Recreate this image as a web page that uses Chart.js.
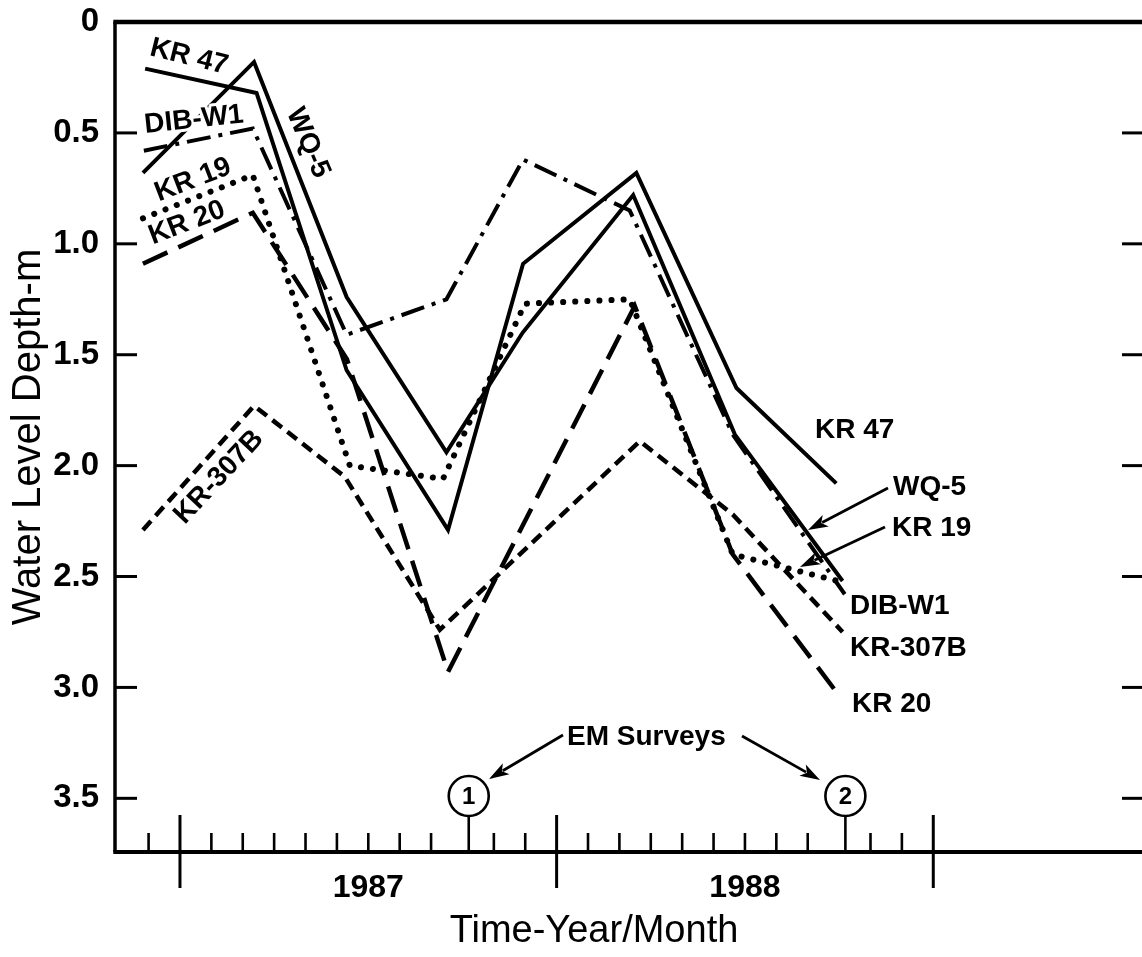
<!DOCTYPE html>
<html>
<head>
<meta charset="utf-8">
<title>Water level depth, 1987-1988</title>
<script src="https://cdn.jsdelivr.net/npm/chart.js@4.4.1/dist/chart.umd.min.js"></script>
<style>
  html, body { margin: 0; padding: 0; background: #ffffff; }
  #wrap { width: 1142px; height: 957px; position: relative; }
</style>
</head>
<body>
<div id="wrap"><canvas id="chart" width="1142" height="957"></canvas></div>
<script>
// Well names
const seriesNames = ['KR 47', 'WQ-5', 'DIB-W1', 'KR 19', 'KR 20', 'KR-307B'];

// Sampling times in months after 1 Jan 1987, water level depth in metres
const kr47Months   = [-1.11, 2.44, 5.31, 8.54, 10.93, 14.54, 17.73, 20.91];
const kr47Depths   = [0.21, 0.32, 1.57, 2.29, 1.09, 0.68, 1.65, 2.08];
const wq5Months    = [-1.18, 2.36, 5.31, 8.49, 10.92, 14.44, 17.68, 21.11];
const wq5Depths    = [0.68, 0.18, 1.24, 1.94, 1.40, 0.78, 1.86, 2.52];
const dibW1Months  = [-1.15, 2.32, 5.31, 8.49, 10.93, 14.33, 17.61, 21.18];
const dibW1Depths  = [0.58, 0.48, 1.41, 1.25, 0.62, 0.85, 1.86, 2.58];
const kr19Months   = [-1.18, 2.32, 5.41, 8.38, 10.99, 14.33, 17.61, 20.95];
const kr19Depths   = [0.885, 0.69, 2.00, 2.06, 1.27, 1.25, 2.40, 2.52];
const kr20Months   = [-1.18, 2.32, 5.32, 8.54, 14.49, 17.61, 20.91];
const kr20Depths   = [1.09, 0.86, 1.52, 2.93, 1.28, 2.40, 3.02];
const kr307bMonths = [-1.18, 2.36, 5.25, 8.28, 14.65, 17.61, 21.11];
const kr307bDepths = [2.29, 1.73, 2.05, 2.74, 1.89, 2.22, 2.75];

// Time axis: year boundaries, year labels, EM survey dates
const yearStarts  = [0, 12, 24];
const yearLabels  = ['1987', '1988'];
const surveyMonths = [9.2, 21.2];
const surveyIds    = ['1', '2'];
const surveyTitle  = 'EM Surveys';

const monthsList = [kr47Months, wq5Months, dibW1Months, kr19Months, kr20Months, kr307bMonths];
const depthsList = [kr47Depths, wq5Depths, dibW1Depths, kr19Depths, kr20Depths, kr307bDepths];

// Line styles, one per well
const lineStyles = [
  { dash: [],            width: 4,   cap: 'butt',  join: 'miter' },
  { dash: [],            width: 4,   cap: 'butt',  join: 'miter' },
  { dash: [24, 8, 4, 8], width: 4,   cap: 'butt',  join: 'miter' },
  { dash: [0.1, 12],     width: 6,   cap: 'round', join: 'round' },
  { dash: [27, 12],      width: 4.5, cap: 'butt',  join: 'miter' },
  { dash: [12, 7],       width: 4.5, cap: 'butt',  join: 'miter' }
];

const FONT = "'Liberation Sans', Arial, Helvetica, sans-serif";
Chart.defaults.font.family = FONT;
Chart.defaults.color = '#000';

const datasets = seriesNames.map((name, i) => ({
  label: name,
  data: monthsList[i].map((m, k) => ({ x: m, y: depthsList[i][k] })),
  borderColor: '#000',
  backgroundColor: '#000',
  borderWidth: lineStyles[i].width,
  borderDash: lineStyles[i].dash,
  borderCapStyle: lineStyles[i].cap,
  borderJoinStyle: lineStyles[i].join,
  pointRadius: 0,
  tension: 0,
  fill: false
}));

// Text placed along the curves (pixel anchors, rotation in degrees)
const curveLabels = [
  { name: 0, x: 189, y: 57,  rot: 14 },
  { name: 2, x: 194, y: 120, rot: -6 },
  { name: 3, x: 193, y: 180, rot: -21 },
  { name: 4, x: 187, y: 223, rot: -21 },
  { name: 5, x: 219, y: 477, rot: -47 },
  { name: 1, x: 308, y: 143, rot: 67 },
  { name: 0, x: 815, y: 430, rot: 0, left: true },
  { name: 1, x: 893, y: 487, rot: 0, left: true },
  { name: 3, x: 892, y: 528, rot: 0, left: true },
  { name: 2, x: 850, y: 606, rot: 0, left: true },
  { name: 5, x: 850, y: 648, rot: 0, left: true },
  { name: 4, x: 852, y: 704, rot: 0, left: true }
];

// Pointer arrows: from (x1,y1) to tip (x2,y2)
const pointers = [
  [888, 488, 808, 530],
  [885, 527, 800, 567],
  [563, 735, 489, 779],
  [742, 736, 820, 780]
];

function seg(ctx, x1, y1, x2, y2, w) {
  ctx.lineWidth = w;
  ctx.beginPath();
  ctx.moveTo(x1, y1);
  ctx.lineTo(x2, y2);
  ctx.stroke();
}

function arrow(ctx, x1, y1, x2, y2) {
  const ang = Math.atan2(y2 - y1, x2 - x1);
  const len = 20, half = 6.5;
  const bx = x2 - len * Math.cos(ang), by = y2 - len * Math.sin(ang);
  seg(ctx, x1, y1, bx + 4 * Math.cos(ang), by + 4 * Math.sin(ang), 2.8);
  ctx.beginPath();
  ctx.moveTo(x2, y2);
  ctx.lineTo(bx + half * Math.sin(ang), by - half * Math.cos(ang));
  ctx.lineTo(bx + 5 * Math.cos(ang), by + 5 * Math.sin(ang));
  ctx.lineTo(bx - half * Math.sin(ang), by + half * Math.cos(ang));
  ctx.closePath();
  ctx.fill();
}

function haloText(ctx, text, x, y, rotDeg, align) {
  ctx.save();
  ctx.translate(x, y);
  ctx.rotate(rotDeg * Math.PI / 180);
  ctx.textAlign = align;
  ctx.textBaseline = 'middle';
  ctx.lineWidth = 6;
  ctx.lineJoin = 'round';
  ctx.strokeStyle = '#fff';
  ctx.strokeText(text, 0, 0);
  ctx.fillStyle = '#000';
  ctx.fillText(text, 0, 0);
  ctx.restore();
}

const overlay = {
  id: 'overlay',
  afterDraw(chart) {
    const { ctx, chartArea: a, scales: { x, y } } = chart;
    const base = a.bottom;
    ctx.save();
    ctx.strokeStyle = '#000';
    ctx.fillStyle = '#000';
    ctx.lineCap = 'butt';

    // curve labels
    ctx.font = 'bold 28px ' + FONT;
    curveLabels.forEach(l => haloText(ctx, seriesNames[l.name], l.x, l.y, l.rot, l.left ? 'left' : 'center'));

    // plot frame (right edge falls outside the canvas)
    seg(ctx, a.left - 1.7, a.top, a.right, a.top, 4.5);
    seg(ctx, a.left, a.top, a.left, base, 3.5);
    seg(ctx, a.left - 1.7, base, a.right, base, 4);

    // depth ticks, pointing inwards on both sides
    for (let v = 0.5; v <= 3.5 + 1e-9; v += 0.5) {
      const py = y.getPixelForValue(v);
      seg(ctx, a.left, py, a.left + 22, py, 3);
      seg(ctx, a.right - 20, py, a.right, py, 3);
    }

    // monthly ticks, skipping year boundaries and survey months
    const skip = new Set([...yearStarts, ...surveyMonths.map(Math.floor)]);
    for (let m = -1; m < yearStarts[yearStarts.length - 1]; m++) {
      if (skip.has(m)) continue;
      const px = x.getPixelForValue(m);
      seg(ctx, px, base, px, base - 19, 2.6);
    }
    // year boundaries
    yearStarts.forEach(m => {
      const px = x.getPixelForValue(m);
      seg(ctx, px, base - 37, px, base + 36, 3);
    });

    // EM survey markers
    const r = 20, cy = base - 56;
    surveyMonths.forEach((m, i) => {
      const px = x.getPixelForValue(m);
      seg(ctx, px, base, px, cy + r, 2.6);
      ctx.lineWidth = 2.6;
      ctx.beginPath();
      ctx.arc(px, cy, r, 0, Math.PI * 2);
      ctx.stroke();
      ctx.font = 'bold 24px ' + FONT;
      ctx.textAlign = 'center';
      ctx.textBaseline = 'middle';
      ctx.fillText(surveyIds[i], px, cy + 1);
    });
    ctx.font = 'bold 28px ' + FONT;
    ctx.textAlign = 'left';
    ctx.textBaseline = 'middle';
    ctx.fillText(surveyTitle, 567, 737);

    pointers.forEach(p => arrow(ctx, p[0], p[1], p[2], p[3]));

    // horizontal axis title
    ctx.font = '38px ' + FONT;
    ctx.textAlign = 'center';
    ctx.fillText('Time-Year/Month', 594, 932);
    ctx.restore();
  }
};

new Chart(document.getElementById('chart'), {
  type: 'line',
  data: { datasets },
  options: {
    responsive: false,
    animation: false,
    events: [],
    layout: { padding: { top: 15, right: 0, bottom: 0, left: 0 } },
    plugins: { legend: { display: false }, tooltip: { enabled: false } },
    scales: {
      x: {
        type: 'linear',
        min: -2.07,
        max: 30.65,
        afterFit: s => { s.height = 105; },
        afterBuildTicks: s => { s.ticks = yearLabels.map((_, i) => ({ value: yearStarts[i] + 6 })); },
        ticks: {
          autoSkip: false,
          maxRotation: 0,
          padding: 12,
          color: '#000',
          font: { size: 32, weight: 'bold', lineHeight: 1 },
          callback: (v, i) => yearLabels[i]
        },
        grid: { display: false },
        border: { display: false }
      },
      y: {
        reverse: true,
        min: 0,
        max: 3.742,
        afterFit: s => { s.width = 115; },
        ticks: {
          stepSize: 0.5,
          includeBounds: false,
          padding: 8,
          color: '#000',
          font: { size: 33, weight: 'bold', lineHeight: 0.85 },
          callback: v => (v === 0 ? '0' : v.toFixed(1))
        },
        grid: { display: false },
        border: { display: false },
        title: {
          display: true,
          text: 'Water Level Depth-m',
          color: '#000',
          font: { size: 40 },
          padding: { top: 5, bottom: 0 }
        }
      }
    }
  },
  plugins: [overlay]
});
</script>
</body>
</html>
